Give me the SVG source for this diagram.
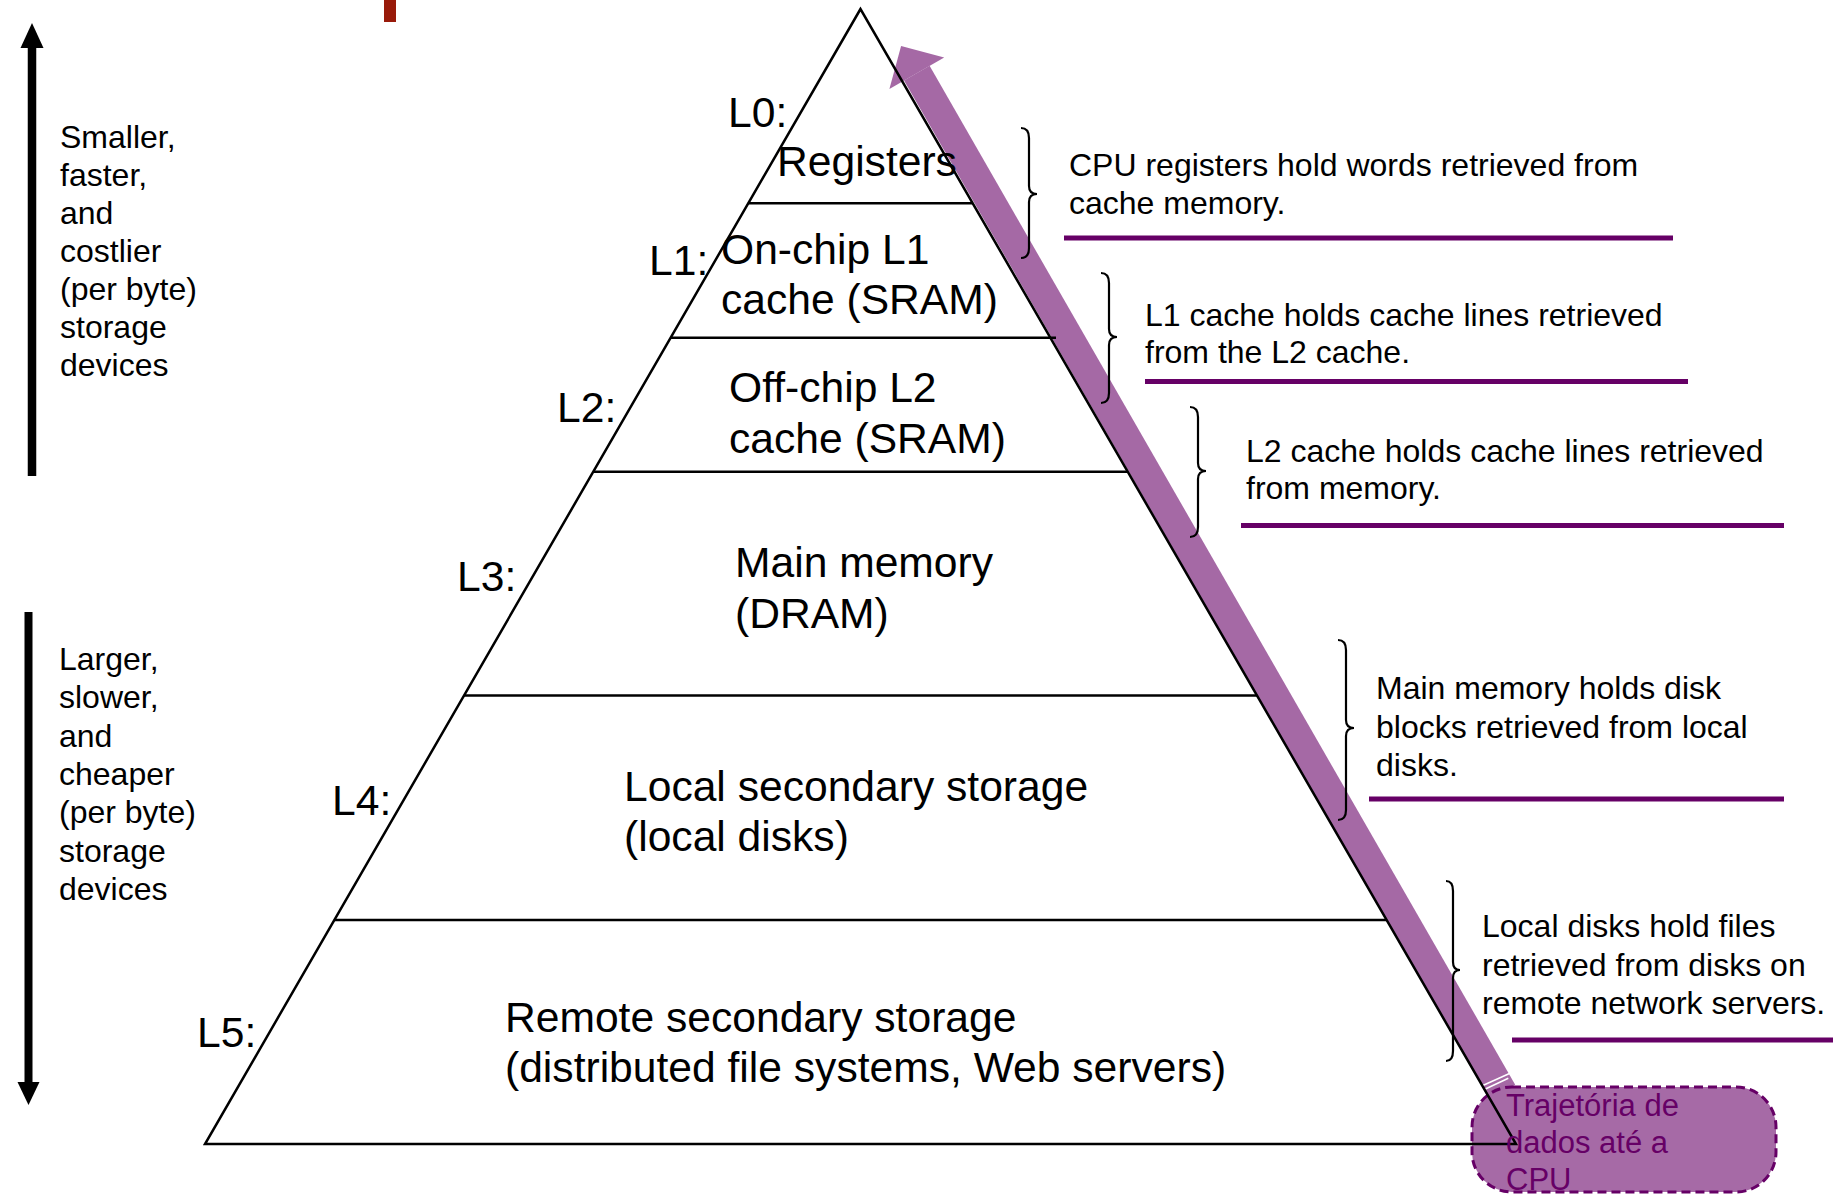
<svg xmlns="http://www.w3.org/2000/svg" width="1838" height="1194" viewBox="0 0 1838 1194">
<defs>
<style>
text{font-family:"Liberation Sans",Arial,Helvetica,sans-serif;fill:#000}
.lv{font-size:42.6px}
.sm{font-size:32px}
.tri{stroke:#000;stroke-width:2.5;fill:none}
.br{stroke:#000;stroke-width:2.2;fill:none}
.ul{stroke:#660066;stroke-width:5}
.tr{font-size:31px;fill:#660066}
.band{stroke:#A569A5;stroke-width:29.5;fill:none}
</style>
</defs>
<rect width="1838" height="1194" fill="#fff"/>
<rect x="384" y="0" width="12" height="22" fill="#991a0a"/>

<g id="connectors">
  <line x1="32" y1="47" x2="32" y2="476" stroke="#000" stroke-width="8.5"/>
  <polygon points="32,23 20.5,48 43.5,48" fill="#000"/>
  <line x1="28.5" y1="612" x2="28.5" y2="1084" stroke="#000" stroke-width="8"/>
  <polygon points="28.5,1105 17.5,1082 39.5,1082" fill="#000"/>
  <line class="band" x1="1502.4" y1="1092" x2="916.8" y2="73.2"/>
  <polygon points="901.1,45.9 944.2,57.5 889.4,88.9" fill="#A569A5"/>
  <line x1="1480" y1="1086.7" x2="1510" y2="1073.3" stroke="#fff" stroke-width="1.5"/>
  <line x1="1481.7" y1="1090.7" x2="1508.3" y2="1078.3" stroke="#fff" stroke-width="1.5"/>
</g>

<g id="cpu-path">
  <rect x="1472" y="1087" width="304" height="105" rx="40" ry="40" fill="#A66AA6" stroke="#660066" stroke-width="3" stroke-dasharray="9,5"/>
</g>

<g id="pyramid">
  <polygon class="tri" points="860.5,9 205,1144 1516,1144"/>
  <line class="tri" x1="748.3" y1="203.3" x2="972.7" y2="203.3"/>
  <line class="tri" x1="670.7" y1="337.7" x2="1056" y2="337.7"/>
  <line class="tri" x1="593.3" y1="471.7" x2="1127.7" y2="471.7"/>
  <line class="tri" x1="464" y1="695.5" x2="1257" y2="695.5"/>
  <line class="tri" x1="334.4" y1="920" x2="1386.6" y2="920"/>
</g>

<g id="L0">
  <text class="lv" x="728" y="127">L0:</text>
  <text class="lv" x="777" y="176">Registers</text>
</g>
<g id="L1">
  <text class="lv" x="649" y="275">L1:</text>
  <text class="lv" x="721" y="264">On-chip L1</text>
  <text class="lv" x="721" y="314">cache (SRAM)</text>
</g>
<g id="L2">
  <text class="lv" x="557" y="422">L2:</text>
  <text class="lv" x="729" y="402">Off-chip L2</text>
  <text class="lv" x="729" y="452.5">cache (SRAM)</text>
</g>
<g id="L3">
  <text class="lv" x="457" y="591">L3:</text>
  <text class="lv" x="735" y="577">Main memory</text>
  <text class="lv" x="735" y="628">(DRAM)</text>
</g>
<g id="L4">
  <text class="lv" x="332" y="815">L4:</text>
  <text class="lv" x="624" y="801">Local secondary storage</text>
  <text class="lv" x="624" y="851">(local disks)</text>
</g>
<g id="L5">
  <text class="lv" x="197" y="1047">L5:</text>
  <text class="lv" x="505" y="1031.5">Remote secondary storage</text>
  <text class="lv" x="505" y="1082">(distributed file systems, Web servers)</text>
</g>

<g id="top-label">
  <text class="sm" x="60" y="147.5">Smaller,</text>
  <text class="sm" x="60" y="185.5">faster,</text>
  <text class="sm" x="60" y="223.6">and</text>
  <text class="sm" x="60" y="261.6">costlier</text>
  <text class="sm" x="60" y="299.7">(per byte)</text>
  <text class="sm" x="60" y="337.7">storage</text>
  <text class="sm" x="60" y="375.8">devices</text>
</g>
<g id="bottom-label">
  <text class="sm" x="59" y="670">Larger,</text>
  <text class="sm" x="59" y="708.3">slower,</text>
  <text class="sm" x="59" y="746.6">and</text>
  <text class="sm" x="59" y="784.9">cheaper</text>
  <text class="sm" x="59" y="823.2">(per byte)</text>
  <text class="sm" x="59" y="861.5">storage</text>
  <text class="sm" x="59" y="899.8">devices</text>
</g>

<g id="desc1">
  <path class="br" d="M1021,128 Q1029,128 1029,138 L1029,186 Q1029,194 1037,194 Q1029,194 1029,202 L1029,248 Q1029,258 1021,258"/>
  <text class="sm" x="1069" y="176">CPU registers hold words retrieved from</text>
  <text class="sm" x="1069" y="213.5">cache memory.</text>
  <line class="ul" x1="1064" y1="238" x2="1673" y2="238"/>
</g>
<g id="desc2">
  <path class="br" d="M1101,273 Q1109,273 1109,283 L1109,329 Q1109,337 1117,337 Q1109,337 1109,345 L1109,393 Q1109,403 1101,403"/>
  <text class="sm" x="1145" y="325.5">L1 cache holds cache lines retrieved</text>
  <text class="sm" x="1145" y="362.5">from the L2 cache.</text>
  <line class="ul" x1="1145" y1="381.5" x2="1688" y2="381.5"/>
</g>
<g id="desc3">
  <path class="br" d="M1190,407 Q1198,407 1198,417 L1198,463 Q1198,471 1206,471 Q1198,471 1198,479 L1198,527 Q1198,537 1190,537"/>
  <text class="sm" x="1246" y="462">L2 cache holds cache lines retrieved</text>
  <text class="sm" x="1246" y="499">from memory.</text>
  <line class="ul" x1="1241" y1="525.5" x2="1784" y2="525.5"/>
</g>
<g id="desc4">
  <path class="br" d="M1338,640 Q1346,640 1346,650 L1346,720 Q1346,728 1354,728 Q1346,728 1346,736 L1346,810 Q1346,820 1338,820"/>
  <text class="sm" x="1376" y="699">Main memory holds disk</text>
  <text class="sm" x="1376" y="737.5">blocks retrieved from local</text>
  <text class="sm" x="1376" y="776">disks.</text>
  <line class="ul" x1="1369" y1="799" x2="1784" y2="799"/>
</g>
<g id="desc5">
  <path class="br" d="M1446,881 Q1453,881 1453,891 L1453,962 Q1453,970 1460,970 Q1453,970 1453,978 L1453,1051 Q1453,1061 1446,1061"/>
  <text class="sm" x="1482" y="937">Local disks hold files</text>
  <text class="sm" x="1482" y="975.5">retrieved from disks on</text>
  <text class="sm" x="1482" y="1014">remote network servers.</text>
  <line class="ul" x1="1512" y1="1040" x2="1833" y2="1040"/>
</g>

<g id="cpu-path-label">
  <text class="tr" x="1506" y="1116">Trajetória de</text>
  <text class="tr" x="1506" y="1153">dados até a</text>
  <text class="tr" x="1506" y="1190">CPU</text>
</g>
</svg>
